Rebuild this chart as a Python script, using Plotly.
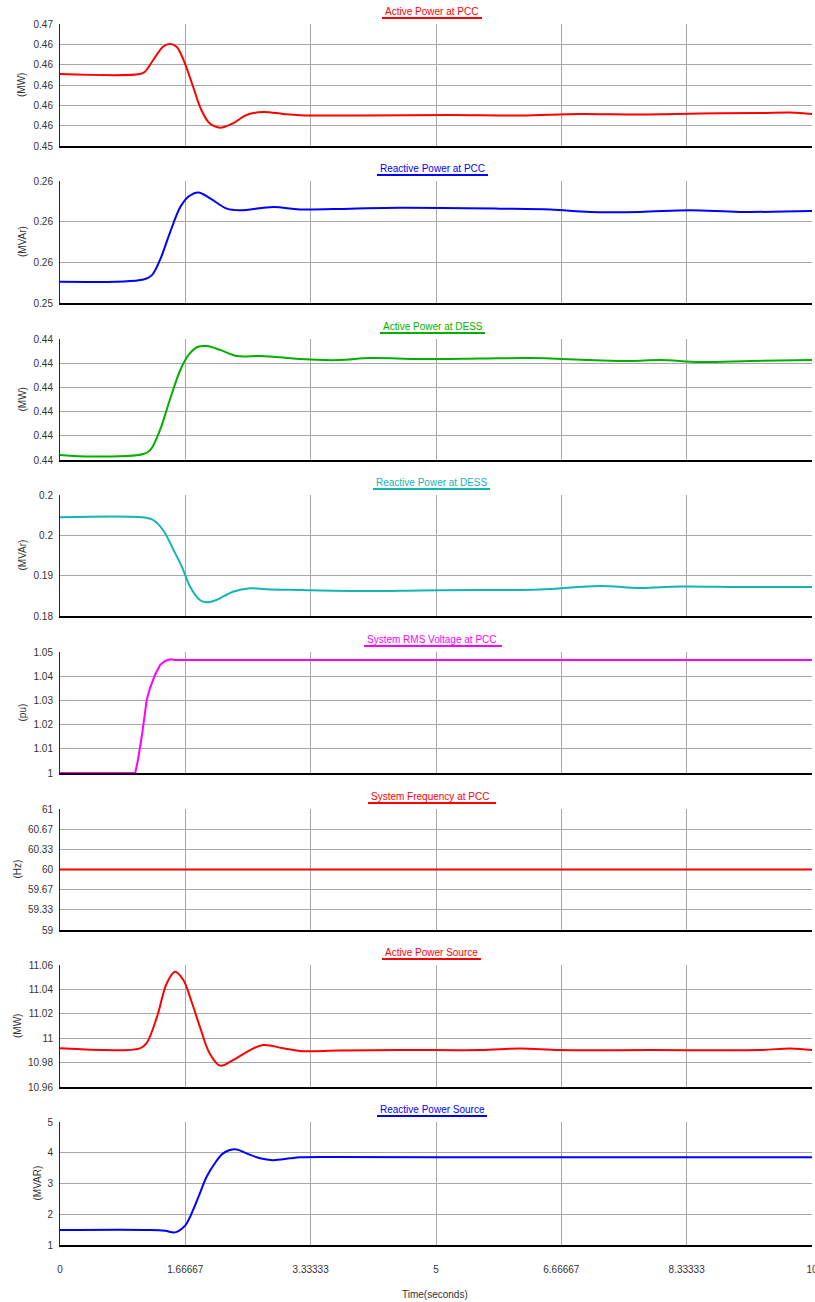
import plotly.graph_objects as go
from plotly.subplots import make_subplots

# ---------------- data ----------------
t_p_pcc = [0, 1.064, 1.13, 1.24, 1.37, 1.46, 1.55, 1.66, 1.77, 1.88, 1.99, 2.13, 2.30, 2.48, 2.70,
           2.97, 3.19, 3.99, 5.19, 6.12, 6.91, 7.71, 8.51, 9.31, 9.71, 10]
p_pcc = [0.46090, 0.46090, 0.46109, 0.46205, 0.46314, 0.46336, 0.46314, 0.46178, 0.45986, 0.45795,
         0.45686, 0.45650, 0.45686, 0.45754, 0.45779, 0.45762, 0.45752, 0.45750, 0.45754, 0.45750,
         0.45762, 0.45758, 0.45766, 0.45770, 0.45775, 0.45762]

t_q_pcc = [0, 1.11, 1.22, 1.33, 1.46, 1.60, 1.71, 1.84, 1.99, 2.22, 2.39, 2.84, 3.19,
           3.86, 4.52, 5.85, 6.52, 7.05, 7.71, 8.38, 9.04, 10]
q_pcc = [0.25526, 0.25529, 0.25534, 0.25553, 0.25586, 0.25618, 0.25631, 0.25636, 0.25629, 0.25616,
         0.25614, 0.25618, 0.25615, 0.25616, 0.25617, 0.25616, 0.25615, 0.25612, 0.25612, 0.25614,
         0.25612, 0.25613]

t_p_dess = [0, 0.44, 1.11, 1.20, 1.33, 1.46, 1.60, 1.71, 1.82, 1.95, 2.13, 2.35, 2.66, 2.99, 3.19,
            3.72, 4.12, 4.79, 5.59, 6.25, 7.05, 7.58, 7.98, 8.51, 9.18, 10]
p_dess = [0.44021, 0.44014, 0.44025, 0.44041, 0.44124, 0.44248, 0.44372, 0.44434, 0.44466, 0.44471,
          0.44455, 0.44430, 0.44430, 0.44423, 0.44417, 0.44413, 0.44421, 0.44417, 0.44419, 0.44421,
          0.44413, 0.44409, 0.44413, 0.44405, 0.44409, 0.44413]

t_q_dess = [0, 1.15, 1.24, 1.37, 1.51, 1.62, 1.73, 1.86, 1.95, 2.08, 2.30, 2.53, 2.75, 3.19, 3.99,
            4.79, 5.59, 6.38, 7.18, 7.71, 8.24, 9.04, 10]
q_dess = [0.19958, 0.19950, 0.19904, 0.19706, 0.19309, 0.18978, 0.18581, 0.18317, 0.18272, 0.18317,
          0.18482, 0.18549, 0.18530, 0.18516, 0.18496, 0.18506, 0.18516, 0.18526, 0.18595, 0.18555,
          0.18585, 0.18575, 0.18575]

t_v_pcc = [0, 1.0, 1.037, 1.09, 1.153, 1.197, 1.263, 1.33, 1.396, 1.463, 1.53, 10]
v_pcc = [1.0, 1.0, 1.0054, 1.0157, 1.0302, 1.0351, 1.0405, 1.0446, 1.0463, 1.0470, 1.0467, 1.0467]

t_f_pcc = [0, 10]
f_pcc = [60, 60]

t_p_src = [0, 1.064, 1.15, 1.29, 1.42, 1.53, 1.64, 1.75, 1.86, 1.99, 2.13, 2.30, 2.53, 2.70, 2.97,
           3.19, 3.72, 4.52, 5.59, 6.12, 6.65, 7.85, 9.31, 9.71, 10]
p_src = [10.9917, 10.9917, 10.9958, 11.0176, 11.0450, 11.0545, 11.0477, 11.0299, 11.0094, 10.9876,
         10.9775, 10.9821, 10.9903, 10.9944, 10.9917, 10.9895, 10.9899, 10.9903, 10.9903, 10.9916,
         10.9903, 10.9903, 10.9903, 10.9916, 10.9903]

t_q_src = [0, 1.20, 1.40, 1.53, 1.66, 1.77, 1.86, 1.95, 2.06, 2.17, 2.33, 2.48, 2.66, 2.83, 3.06,
           3.19, 3.59, 5.0, 10]
q_src = [1.49, 1.49, 1.46, 1.41, 1.62, 2.14, 2.68, 3.22, 3.66, 3.98, 4.11, 3.98, 3.82, 3.76, 3.82,
         3.85, 3.86, 3.85, 3.85]

x_tick_vals = [0, 1.66667, 3.33333, 5, 6.66667, 8.33333, 10]
x_tick_text = ["0", "1.66667", "3.33333", "5", "6.66667", "8.33333", "10"]

titles = ["Active Power at PCC", "Reactive Power at PCC", "Active Power at DESS",
          "Reactive Power at DESS", "System RMS Voltage at PCC", "System Frequency at PCC",
          "Active Power Source", "Reactive Power Source"]
units = ["(MW)", "(MVAr)", "(MW)", "(MVAr)", "(pu)", "(Hz)", "(MW)", "(MVAR)"]
colors = ["#ff0000", "#0000ff", "#00b000", "#14b4b4", "#ff00ff", "#ff0000", "#ff0000", "#0000ff"]

y_ranges = [[0.455, 0.465], [0.2550, 0.2565], [0.440, 0.445], [0.180, 0.204],
            [1.0, 1.05], [59, 61], [10.96, 11.06], [1, 5]]
y_tick_vals = [
    [0.455, 0.456667, 0.458333, 0.46, 0.461667, 0.463333, 0.465],
    [0.2550, 0.2555, 0.2560, 0.2565],
    [0.440, 0.441, 0.442, 0.443, 0.444, 0.445],
    [0.180, 0.188, 0.196, 0.204],
    [1.0, 1.01, 1.02, 1.03, 1.04, 1.05],
    [59, 59.3333, 59.6667, 60, 60.3333, 60.6667, 61],
    [10.96, 10.98, 11.0, 11.02, 11.04, 11.06],
    [1, 2, 3, 4, 5],
]
y_tick_text = [
    ["0.45", "0.46", "0.46", "0.46", "0.46", "0.46", "0.47"],
    ["0.25", "0.26", "0.26", "0.26"],
    ["0.44", "0.44", "0.44", "0.44", "0.44", "0.44"],
    ["0.18", "0.19", "0.2", "0.2"],
    ["1", "1.01", "1.02", "1.03", "1.04", "1.05"],
    ["59", "59.33", "59.67", "60", "60.33", "60.67", "61"],
    ["10.96", "10.98", "11", "11.02", "11.04", "11.06"],
    ["1", "2", "3", "4", "5"],
]

series = [(t_p_pcc, p_pcc), (t_q_pcc, q_pcc), (t_p_dess, p_dess), (t_q_dess, q_dess),
          (t_v_pcc, v_pcc), (t_f_pcc, f_pcc), (t_p_src, p_src), (t_q_src, q_src)]

# ---------------- layout geometry (pixels) ----------------
W, H = 815, 1302
L, R = 60, 3
PW = W - L - R
panel_px = [(24, 146), (181, 303), (339, 460), (495, 616), (652, 773), (809, 930),
            (965, 1087), (1122, 1245)]
title_line_px = [(382, 482), (377, 488), (380, 485), (373, 490), (364, 502), (368, 496),
                 (382, 481), (377, 487)]
unit_x_px = [22, 22, 22, 22, 22, 17, 17, 37]


def px2x(px):
    return (px - L) / PW


def px2y(py):
    return (H - py) / H


FONT = "Liberation Sans, Arial, sans-serif"

fig = make_subplots(rows=8, cols=1, shared_xaxes=True, vertical_spacing=0.01)

for i, (tx, vy) in enumerate(series):
    fig.add_trace(go.Scatter(x=tx, y=vy, mode="lines",
                             line=dict(color=colors[i], width=2,
                                       shape="linear" if i in (4, 5) else "spline",
                                       smoothing=1.0),
                             showlegend=False, hoverinfo="skip"),
                  row=i + 1, col=1)

annotations = []
shapes = []
for i in range(8):
    top, bot = panel_px[i]
    ax = "" if i == 0 else str(i + 1)
    fig.layout["yaxis" + ax].update(
        domain=[px2y(bot), px2y(top)], range=y_ranges[i],
        tickmode="array", tickvals=y_tick_vals[i], ticktext=y_tick_text[i],
        showgrid=True, gridcolor="#a8a8a8", gridwidth=1, zeroline=False,
        showline=True, linecolor="#800000", linewidth=1,
        ticks="", ticklabelstandoff=4, automargin=False,
        tickfont=dict(family=FONT, size=10, color="#333333"),
    )
    fig.layout["xaxis" + ax].update(
        range=[0, 10], tickmode="array", tickvals=x_tick_vals, ticktext=x_tick_text,
        showgrid=True, gridcolor="#a8a8a8", gridwidth=1, zeroline=False,
        showline=True, linecolor="#000000", linewidth=1.5,
        ticks="", showticklabels=(i == 7), ticklabelstandoff=14, automargin=False,
        ticklabeloverflow="allow",
        tickfont=dict(family=FONT, size=10, color="#333333"),
    )
    # title text with colored underline
    x0, x1 = title_line_px[i]
    annotations.append(dict(
        xref="paper", yref="paper", x=px2x(x0 + 1), y=px2y(top - 12.5),
        xanchor="left", yanchor="middle", showarrow=False,
        text=titles[i], font=dict(family=FONT, size=10, color=colors[i])))
    shapes.append(dict(type="line", xref="paper", yref="paper",
                       x0=px2x(x0), x1=px2x(x1), y0=px2y(top - 6), y1=px2y(top - 6),
                       line=dict(color=colors[i], width=2)))
    # unit label
    annotations.append(dict(
        xref="paper", yref="paper", x=px2x(unit_x_px[i]), y=px2y((top + bot) / 2),
        xanchor="center", yanchor="middle", showarrow=False, textangle=-90,
        text=units[i], font=dict(family=FONT, size=10, color="#333333")))

annotations.append(dict(
    xref="paper", yref="paper", x=px2x(435), y=px2y(1294),
    xanchor="center", yanchor="middle", showarrow=False,
    text="Time(seconds)", font=dict(family=FONT, size=10, color="#333333")))

fig.update_layout(
    width=W, height=H, autosize=False,
    margin=dict(l=L, r=R, t=0, b=0, pad=0, autoexpand=False),
    plot_bgcolor="white", paper_bgcolor="white",
    annotations=annotations, shapes=shapes,
    font=dict(family=FONT, size=10, color="#333333"),
)

fig.write_html(
    "out.html",
    config={"displayModeBar": False},
    post_script="document.body.style.margin='0';document.body.style.padding='0';"
                "document.body.style.overflow='hidden';",
)
